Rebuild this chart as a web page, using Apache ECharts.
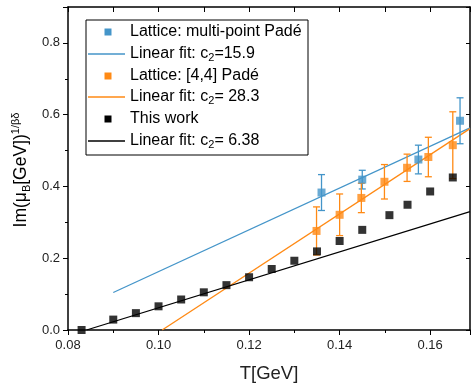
<!DOCTYPE html>
<html><head><meta charset="utf-8">
<script src="https://cdn.jsdelivr.net/npm/echarts@6/dist/echarts.min.js"></script>
<style>html,body{margin:0;padding:0;background:#fff}#c{width:471px;height:388px}</style>
</head><body><div id="c"></div>
<script>
// ---- data ----
const blackT = [0.083, 0.090, 0.095, 0.100, 0.105, 0.110, 0.115, 0.120, 0.125, 0.130, 0.135, 0.140, 0.145, 0.151, 0.155, 0.160, 0.165];
const blackV = [0.000, 0.029, 0.047, 0.066, 0.085, 0.105, 0.125, 0.147, 0.170, 0.193, 0.219, 0.248, 0.279, 0.320, 0.349, 0.386, 0.425];
const blueT = [0.136, 0.145, 0.1574, 0.1666];
const blueV = [0.383, 0.419, 0.475, 0.583];
const blueErr = [0.050, 0.026, 0.040, 0.064];
const orangeT = [0.1349, 0.140, 0.1448, 0.1499, 0.1549, 0.1596, 0.165];
const orangeV = [0.276, 0.321, 0.368, 0.413, 0.452, 0.482, 0.515];
const orangeErr = [0.067, 0.058, 0.041, 0.048, 0.038, 0.055, 0.093];
const blueFitT = [0.090, 0.1688];
const blueFitV = [0.1045, 0.563];
const orangeFitT = [0.1008, 0.1688];
const orangeFitV = [0.000, 0.561];
const blackFitT = [0.0841, 0.1688];
const blackFitV = [0.000, 0.330];
const xTicks = [0.08, 0.10, 0.12, 0.14, 0.16];
const yTicks = [0.0, 0.2, 0.4, 0.6, 0.8];
const legendLabels = [
  ['Lattice: multi-point Padé'],
  ['Linear fit: c', '2', '=15.9'],
  ['Lattice: [4,4] Padé'],
  ['Linear fit: c', '2', '= 28.3'],
  ['This work'],
  ['Linear fit: c', '2', '= 6.38']
];

const BLUE = '#4495c9', ORANGE = '#ff8a15', BLACK = '#000';
const FONT = '"Liberation Sans", Arial, sans-serif';
const zip = (a, b) => a.map((v, i) => [v, b[i]]);
const zip3 = (a, b, c) => a.map((v, i) => [v, b[i], c[i]]);

function errRender(color) {
  return function (params, api) {
    const x = api.value(0), y = api.value(1), e = api.value(2);
    const t = api.coord([x, y + e]), b = api.coord([x, y - e]);
    const hw = 3.5;
    const st = { stroke: color, lineWidth: 1.3 };
    return { type: 'group', children: [
      { type: 'line', shape: { x1: t[0], y1: t[1], x2: b[0], y2: b[1] }, style: st },
      { type: 'line', shape: { x1: t[0] - hw, y1: t[1], x2: t[0] + hw, y2: t[1] }, style: st },
      { type: 'line', shape: { x1: b[0] - hw, y1: b[1], x2: b[0] + hw, y2: b[1] }, style: st }
    ]};
  };
}

const chart = echarts.init(document.getElementById('c'), null, { renderer: 'canvas' });
const XMIN = 0.08, XMAX = 0.1688, YMIN = 0, YMAX = 0.9;
const lab = { color: '#222', fontSize: 13, fontFamily: FONT };

// legend built from graphic elements
const rowY = [32, 54, 76, 97, 119, 141];
const legendColors = [BLUE, BLUE, ORANGE, ORANGE, BLACK, BLACK];
const legendChildren = [{ type: 'rect', shape: { x: 86, y: 20, width: 222, height: 135 }, style: { fill: '#fff', stroke: '#000', lineWidth: 1 } }];
legendLabels.forEach((parts, i) => {
  const y = rowY[i];
  if (i % 2 === 0) {
    legendChildren.push({ type: 'rect', shape: { x: 104.5, y: y - 3.5, width: 7, height: 7 }, style: { fill: legendColors[i] } });
  } else {
    legendChildren.push({ type: 'line', shape: { x1: 88, y1: y, x2: 125, y2: y }, style: { stroke: legendColors[i], lineWidth: 1.3 } });
  }
  let txt = parts.length === 1 ? '{a|' + parts[0] + '}' : '{a|' + parts[0] + '}{s|' + parts[1] + '}{a|' + parts[2] + '}';
  legendChildren.push({ type: 'text', x: 130, y: y, style: {
    text: txt, verticalAlign: 'middle', align: 'left',
    rich: { a: { fontSize: 16, fontFamily: FONT, color: '#111', lineHeight: 19 },
            s: { fontSize: 11, fontFamily: FONT, color: '#111', lineHeight: 11, verticalAlign: 'bottom' } }
  }});
});

// y-axis title as rotated rich text
const yTitle = { type: 'text', x: 21, y: 170, rotation: Math.PI / 2, style: {
  text: '{a|Im(μ}{s|B}{a|[GeV])}{p|1/βδ}', align: 'center', verticalAlign: 'middle',
  rich: { a: { fontSize: 17.5, fontFamily: FONT, color: '#222', lineHeight: 22 },
          s: { fontSize: 11, fontFamily: FONT, color: '#222', lineHeight: 11, verticalAlign: 'bottom' },
          p: { fontSize: 11, fontFamily: FONT, color: '#222', lineHeight: 11, verticalAlign: 'top' } } } };

chart.setOption({
  animation: false,
  backgroundColor: '#fff',
  grid: { left: 68, right: 1, top: 7, bottom: 52, containLabel: false },
  xAxis: [
    { type: 'value', position: 'bottom', min: XMIN, max: XMAX, interval: 0.02,
      axisLine: { show: true, lineStyle: { color: '#000', width: 1.5 } },
      axisTick: { show: true, inside: false, length: 5, lineStyle: { color: '#000', width: 1 } },
      minorTick: { show: true, splitNumber: 2, length: 3, lineStyle: { color: '#000', width: 1 } },
      splitLine: { show: false }, minorSplitLine: { show: false },
      axisLabel: Object.assign({ margin: 9, showMaxLabel: false,
        formatter: v => xTicks.some(t => Math.abs(t - v) < 1e-9) ? v.toFixed(2) : '' }, lab),
      name: 'T[GeV]', nameLocation: 'middle', nameGap: 34,
      nameTextStyle: { fontSize: 18.5, color: '#222', fontFamily: FONT } },
    { type: 'value', position: 'top', min: XMIN, max: XMAX, interval: 0.01,
      axisLine: { show: true, onZero: false, lineStyle: { color: '#000', width: 1.5 } },
      axisTick: { show: true, inside: true, length: 5, lineStyle: { color: '#000', width: 1 } },
      axisLabel: { show: false }, splitLine: { show: false } }
  ],
  yAxis: [
    { type: 'value', position: 'left', min: YMIN, max: YMAX, interval: 0.2,
      axisLine: { show: true, onZero: false, lineStyle: { color: '#000', width: 1.5 } },
      axisTick: { show: true, inside: false, length: 5, lineStyle: { color: '#000', width: 1 } },
      minorTick: { show: true, splitNumber: 2, length: 3, lineStyle: { color: '#000', width: 1 } },
      splitLine: { show: false }, minorSplitLine: { show: false },
      axisLabel: Object.assign({ margin: 8, showMaxLabel: false,
        formatter: v => yTicks.some(t => Math.abs(t - v) < 1e-9) ? v.toFixed(1) : '' }, lab) },
    { type: 'value', position: 'right', min: YMIN, max: YMAX, interval: 0.2,
      axisLine: { show: true, onZero: false, lineStyle: { color: '#000', width: 1.5 } },
      axisTick: { show: true, inside: true, length: 4, lineStyle: { color: '#000', width: 1 } },
      axisLabel: { show: false }, splitLine: { show: false } }
  ],
  graphic: [yTitle, { type: 'group', z: 100, children: legendChildren }],
  series: [
    { type: 'line', data: zip(blueFitT, blueFitV), symbol: 'none', lineStyle: { color: BLUE, width: 1.3 }, z: 2, clip: true },
    { type: 'line', data: zip(orangeFitT, orangeFitV), symbol: 'none', lineStyle: { color: ORANGE, width: 1.3 }, z: 2, clip: true },
    { type: 'line', data: zip(blackFitT, blackFitV), symbol: 'none', lineStyle: { color: BLACK, width: 1.3 }, z: 2, clip: true },
    { type: 'custom', data: zip3(blueT, blueV, blueErr), renderItem: errRender(BLUE), z: 3 },
    { type: 'custom', data: zip3(orangeT, orangeV, orangeErr), renderItem: errRender(ORANGE), z: 3 },
    { type: 'scatter', data: zip(blueT, blueV), symbol: 'rect', symbolSize: 8, itemStyle: { color: BLUE }, z: 4 },
    { type: 'scatter', data: zip(orangeT, orangeV), symbol: 'rect', symbolSize: 8, itemStyle: { color: ORANGE }, z: 4 },
    { type: 'scatter', data: zip(blackT, blackV), symbol: 'rect', symbolSize: 8, itemStyle: { color: BLACK }, z: 4, clip: false }
  ]
});
</script></body></html>
